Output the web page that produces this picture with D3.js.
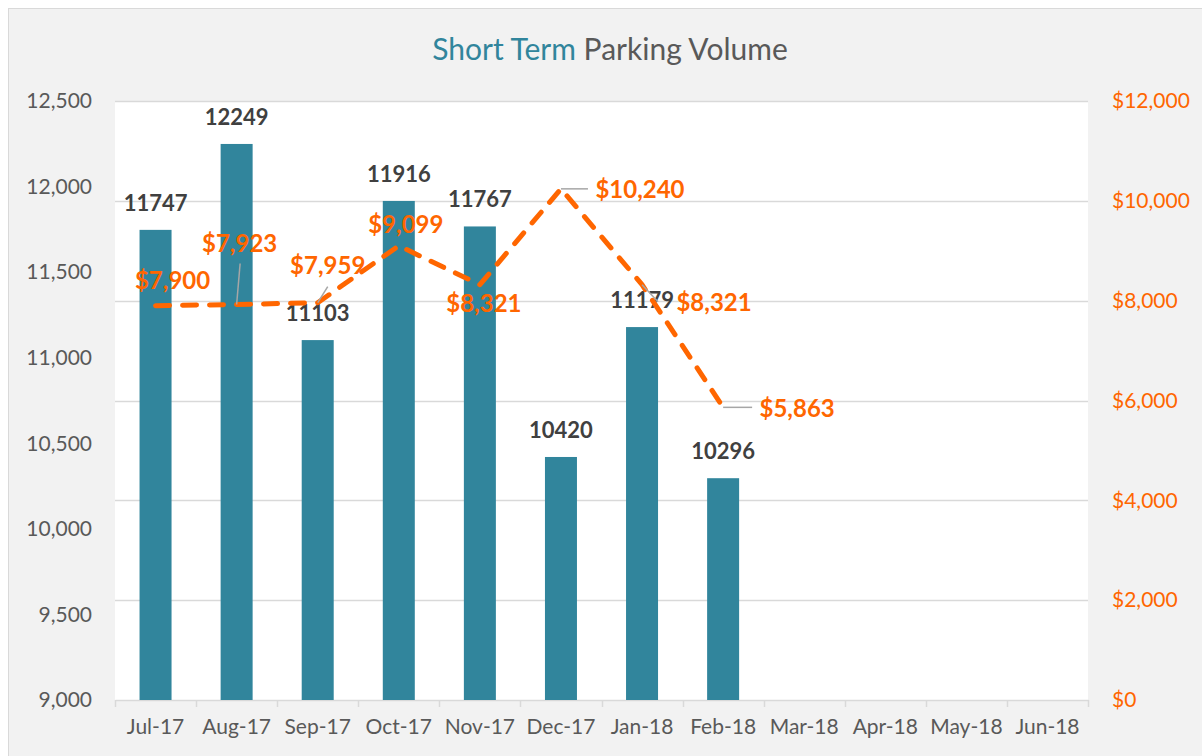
<!DOCTYPE html>
<html>
<head>
<meta charset="utf-8">
<script src="https://cdn.jsdelivr.net/npm/d3@7"></script>
<style>
  html, body { margin: 0; padding: 0; background: #ffffff; }
  svg { display: block; }
  text { font-family: Lato, "Open Sans", sans-serif; }
</style>
</head>
<body>
<svg id="chart" width="1202" height="756"></svg>
<script>
// Monthly short-term parking volume (bars) and revenue (dashed line)
const months = ["Jul-17", "Aug-17", "Sep-17", "Oct-17", "Nov-17", "Dec-17",
                "Jan-18", "Feb-18", "Mar-18", "Apr-18", "May-18", "Jun-18"];
const volume = [11747, 12249, 11103, 11916, 11767, 10420, 11179, 10296];
const revenue = [7900, 7923, 7959, 9099, 8321, 10240, 8321, 5863];
const volumeTicks = [9000, 9500, 10000, 10500, 11000, 11500, 12000, 12500];
const revenueTicks = [0, 2000, 4000, 6000, 8000, 10000, 12000];

// Where each revenue label sits relative to its point, and optional leader line end
const revLabelOffset = [[17, -25], [3, -61], [10, -37], [7, -21], [4, 19], [79, 1], [72, 18], [74, 1]];
const revLeaderEnd = [null, [3.5, -41], [10, -16], null, null, [27, 0], [16, 17], [29, 0]];

const W = 1202, H = 756;
const plot = { left: 115, right: 1088, top: 101, bottom: 700 };

const teal = "#31859c", orange = "#ff6600", grid = "#d9d9d9", axisText = "#595959";

const svg = d3.select("#chart");

// Chart frame
svg.append("rect")
  .attr("x", 8.5).attr("y", 8.5)
  .attr("width", W).attr("height", H)
  .attr("fill", "#f2f2f2").attr("stroke", "#d9d9d9").attr("stroke-width", 1);

// Plot area
svg.append("rect")
  .attr("x", plot.left).attr("y", plot.top)
  .attr("width", plot.right - plot.left).attr("height", plot.bottom - plot.top)
  .attr("fill", "#ffffff");

// Scales
const x = d3.scaleBand().domain(months).range([plot.left, plot.right]).paddingInner(0).paddingOuter(0);
const yL = d3.scaleLinear().domain([9000, 12500]).range([plot.bottom, plot.top]);
const yR = d3.scaleLinear().domain([0, 12000]).range([plot.bottom, plot.top]);
const cx = m => x(m) + x.bandwidth() / 2;

// Title
const title = svg.append("text")
  .attr("x", 610).attr("y", 60)
  .attr("text-anchor", "middle")
  .attr("font-size", 30);
title.append("tspan").attr("fill", teal).text("Short Term");
title.append("tspan").attr("fill", axisText).text(" Parking Volume");

// Gridlines follow the revenue axis
svg.append("g").selectAll("line")
  .data(revenueTicks.filter(t => t > 0))
  .join("line")
  .attr("x1", plot.left).attr("x2", plot.right)
  .attr("y1", d => Math.round(yR(d)) + 0.5).attr("y2", d => Math.round(yR(d)) + 0.5)
  .attr("stroke", grid).attr("stroke-width", 1.5);

// Left axis (volume)
const gL = svg.append("g")
  .attr("transform", `translate(${plot.left},0)`)
  .call(d3.axisLeft(yL).tickValues(volumeTicks).tickFormat(d3.format(",")).tickSize(0).tickPadding(23));
gL.select(".domain").remove();
gL.selectAll("text").attr("fill", axisText).attr("font-size", 21).attr("font-family", "Lato, sans-serif");

// Right axis (revenue)
const gR = svg.append("g")
  .attr("transform", `translate(${plot.right},0)`)
  .call(d3.axisRight(yR).tickValues(revenueTicks).tickFormat(d3.format("$,")).tickSize(0).tickPadding(24));
gR.select(".domain").remove();
gR.selectAll("text").attr("fill", orange).attr("font-size", 21).attr("font-family", "Lato, sans-serif");

// Bottom axis
const gX = svg.append("g")
  .attr("transform", `translate(0,${plot.bottom})`)
  .call(d3.axisBottom(x).tickSize(0).tickPadding(19));
gX.select(".domain").attr("stroke", grid).attr("stroke-width", 1.5);
gX.selectAll("text").attr("fill", axisText).attr("font-size", 21).attr("font-family", "Lato, sans-serif");
gX.selectAll(".boundary")
  .data(months.concat([null]))
  .join("line")
  .attr("class", "boundary")
  .attr("x1", d => Math.round(d ? x(d) : plot.right) + 0.5)
  .attr("x2", d => Math.round(d ? x(d) : plot.right) + 0.5)
  .attr("y1", 0).attr("y2", 7)
  .attr("stroke", grid).attr("stroke-width", 1.5);

// Volume bars
const barW = 32;
const vol = volume.map((v, i) => ({ m: months[i], v }));
svg.append("g").selectAll("rect")
  .data(vol)
  .join("rect")
  .attr("x", d => cx(d.m) - barW / 2)
  .attr("y", d => yL(d.v))
  .attr("width", barW)
  .attr("height", d => yL(9000) - yL(d.v))
  .attr("fill", teal);

// Volume labels
svg.append("g").selectAll("text")
  .data(vol)
  .join("text")
  .attr("x", d => cx(d.m))
  .attr("y", d => yL(d.v) - 19)
  .attr("text-anchor", "middle")
  .attr("font-size", 22).attr("font-weight", 700)
  .attr("fill", "#404040")
  .text(d => d.v);

// Revenue line
const rev = revenue.map((v, i) => ({ m: months[i], v, i }));
svg.append("path")
  .datum(rev)
  .attr("d", d3.line().x(d => cx(d.m)).y(d => yR(d.v)))
  .attr("fill", "none")
  .attr("stroke", orange).attr("stroke-width", 5)
  .attr("stroke-dasharray", "14 13")
  .attr("stroke-linecap", "round").attr("stroke-linejoin", "round");

// Leader lines for displaced revenue labels
svg.append("g").selectAll("line")
  .data(rev.filter(d => revLeaderEnd[d.i]))
  .join("line")
  .attr("x1", d => cx(d.m)).attr("y1", d => yR(d.v))
  .attr("x2", d => cx(d.m) + revLeaderEnd[d.i][0])
  .attr("y2", d => yR(d.v) + revLeaderEnd[d.i][1])
  .attr("stroke", "#a6a6a6").attr("stroke-width", 1.5);

// Revenue labels
svg.append("g").selectAll("text")
  .data(rev)
  .join("text")
  .attr("x", d => cx(d.m) + revLabelOffset[d.i][0])
  .attr("y", d => yR(d.v) + revLabelOffset[d.i][1])
  .attr("dy", "0.36em")
  .attr("text-anchor", "middle")
  .attr("font-size", 24).attr("font-weight", 700)
  .attr("fill", orange)
  .text(d => d3.format("$,")(d.v));
</script>
</body>
</html>
